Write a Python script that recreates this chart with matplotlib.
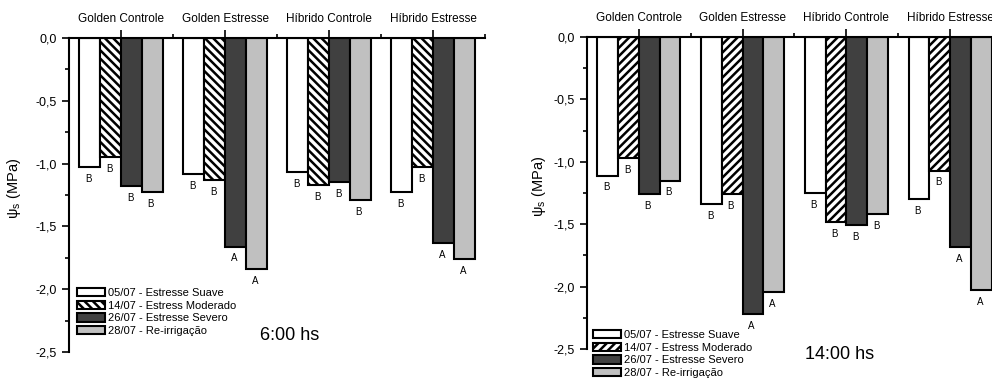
import numpy as np
import matplotlib
matplotlib.use('Agg')
import matplotlib.pyplot as plt
from matplotlib.patches import Patch
from matplotlib.ticker import FixedLocator, FuncFormatter

plt.rcParams['font.family'] = ['Liberation Sans', 'DejaVu Sans']
plt.rcParams['hatch.linewidth'] = 1.8

# Grupos (eixo superior)
grupos = ['Golden Controle', 'Golden Estresse', 'Híbrido Controle', 'Híbrido Estresse']
datas = ['05/07 - Estresse Suave', '14/07 - Estress Moderado',
         '26/07 - Estresse Severo', '28/07 - Re-irrigação']

# Potencial hídrico 6:00 hs (MPa)
ps6_suave = [-1.03, -1.08, -1.07, -1.23]
ps6_moderado = [-0.95, -1.13, -1.17, -1.03]
ps6_severo = [-1.18, -1.66, -1.15, -1.63]
ps6_reirrig = [-1.23, -1.84, -1.29, -1.76]

# Potencial hídrico 14:00 hs (MPa)
ps14_suave = [-1.11, -1.34, -1.25, -1.30]
ps14_moderado = [-0.97, -1.26, -1.48, -1.07]
ps14_severo = [-1.26, -2.22, -1.51, -1.68]
ps14_reirrig = [-1.15, -2.04, -1.42, -2.03]

# Letras (teste de médias)
letras_suave = ['B', 'B', 'B', 'B']
letras_moderado = ['B', 'B', 'B', 'B']
letras_severo = ['B', 'A', 'B', 'A']
letras_reirrig = ['B', 'A', 'B', 'A']

cores = ['white', 'white', '#404040', '#c0c0c0']
fig = plt.figure(figsize=(9.92, 3.83), dpi=100)


def painel(ax, series, hatch, titulo, titulo_xy, leg_xy, ylab_x):
    x = np.arange(len(grupos))
    letras = [letras_suave, letras_moderado, letras_severo, letras_reirrig]
    handles = []
    for i, vals in enumerate(series):
        h = hatch if i == 1 else None
        bars = ax.bar(x + (i - 1.5) * 0.2, vals, 0.2, color=cores[i],
                      edgecolor='black', linewidth=1.5, hatch=h)
        for b, v, l in zip(bars, vals, letras[i]):
            ax.annotate(l, (b.get_x() + b.get_width() / 2, v), xytext=(-1, -5),
                        textcoords='offset points', ha='center', va='top', fontsize=7)
        handles.append(Patch(facecolor=cores[i], edgecolor='black', linewidth=1.5, hatch=h))

    ax.set_xlim(-0.5, 3.5)
    ax.set_ylim(-2.5, 0)
    ax.spines['right'].set_visible(False)
    ax.spines['bottom'].set_visible(False)
    ax.spines['left'].set_linewidth(1.5)
    ax.spines['top'].set_linewidth(1.5)

    ax.xaxis.tick_top()
    ax.set_xticks(x)
    ax.set_xticklabels(grupos, fontsize=8.5)
    ax.xaxis.set_minor_locator(FixedLocator([0.5, 1.5, 2.5, 3.5]))
    ax.tick_params(axis='x', which='major', direction='out', length=6, width=1.2, pad=3)
    ax.tick_params(axis='x', which='minor', direction='out', length=3, width=1.2)

    ax.set_yticks([0, -0.5, -1.0, -1.5, -2.0, -2.5])
    ax.yaxis.set_minor_locator(FixedLocator(np.arange(-2.25, 0, 0.5)))
    ax.yaxis.set_major_formatter(FuncFormatter(lambda v, p: f'{v:.1f}'.replace('.', ',').replace('-0,0', '0,0')))
    ax.tick_params(axis='y', which='major', direction='out', length=5, width=1.2, labelsize=9)
    ax.tick_params(axis='y', which='minor', direction='out', length=3, width=1.2)

    ax.set_ylabel(r'ψ$_\mathregular{s}$ (MPa)', fontsize=10.5)
    ax.yaxis.set_label_coords(ylab_x, 0.52)

    ax.text(titulo_xy[0], titulo_xy[1], titulo, transform=ax.transAxes,
            fontsize=13, va='center', ha='left')
    ax.legend(handles, datas, loc='upper left', bbox_to_anchor=leg_xy, frameon=False,
              fontsize=8, handlelength=2.5, handleheight=0.8, handletextpad=0.25,
              labelspacing=0.22, borderpad=0, borderaxespad=0)


ax1 = fig.add_axes([0.0696, 0.0809, 0.4194, 0.8199])
painel(ax1, [ps6_suave, ps6_moderado, ps6_severo, ps6_reirrig], '\\\\\\\\',
       '6:00 hs', (0.459, 0.054), (0.019, 0.204), -0.11)

ax2 = fig.add_axes([0.5917, 0.0888, 0.4183, 0.8146])
painel(ax2, [ps14_suave, ps14_moderado, ps14_severo, ps14_reirrig], '////',
       '14:00 hs', (0.525, -0.019), (0.0145, 0.061), -0.094)

fig.savefig('out.png', dpi=100)
